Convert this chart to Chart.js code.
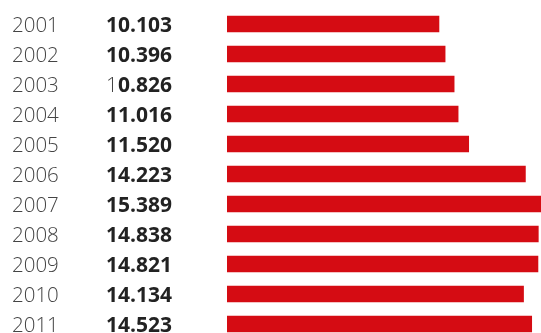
<!DOCTYPE html>
<html>
<head>
<meta charset="utf-8">
<script src="https://cdn.jsdelivr.net/npm/chart.js@4"></script>
<style>
  html, body { margin: 0; padding: 0; background: #fff; overflow: hidden; }
  #wrap { width: 541px; height: 345px; }
</style>
</head>
<body>
<div id="wrap"><canvas id="chart" width="541" height="345"></canvas></div>
<script>
// Jahre und Werte
const years = ["2001", "2002", "2003", "2004", "2005", "2006", "2007", "2008", "2009", "2010", "2011"];
const values = [10103, 10396, 10826, 11016, 11520, 14223, 15389, 14838, 14821, 14134, 14523];
const valueLabels = ["10.103", "10.396", "10.826", "11.016", "11.520", "14.223", "15.389", "14.838", "14.821", "14.134", "14.523"];

// Beschriftungen links zeichnen
const labelPlugin = {
  id: "labels",
  afterDraw(chart) {
    const ctx = chart.ctx;
    const yScale = chart.scales.y;
    ctx.save();
    ctx.textBaseline = "middle";
    ctx.textAlign = "left";
    years.forEach((yr, i) => {
      const y = yScale.getPixelForValue(i) + 2;
      ctx.font = "300 20.5px 'Open Sans'";
      ctx.fillStyle = "#444";
      ctx.fillText(yr, 12, y);
      const txt = valueLabels[i];
      let x = 106;
      if (i === 2) {
        // im Original ist die erste "1" nicht fett
        ctx.font = "300 21px 'Open Sans'";
        ctx.fillStyle = "#444";
        ctx.fillText(txt[0], x, y);
        x += ctx.measureText(txt[0]).width;
        ctx.font = "bold 21px 'Open Sans'";
        ctx.fillStyle = "#222";
        ctx.fillText(txt.slice(1), x, y);
      } else {
        ctx.font = "bold 21px 'Open Sans'";
        ctx.fillStyle = "#222";
        ctx.fillText(txt, x, y);
      }
    });
    ctx.restore();
  }
};

const ctx = document.getElementById("chart").getContext("2d");
const chart = new Chart(ctx, {
  type: "bar",
  data: {
    labels: years,
    datasets: [
      {
        data: values,
        backgroundColor: "#d50c13",
        borderWidth: 0,
        barThickness: 16,
      },
    ],
  },
  options: {
    indexAxis: "y",
    responsive: false,
    animation: false,
    layout: {
      padding: { left: 227, top: 9, right: 0, bottom: 6 },
    },
    plugins: {
      legend: { display: false },
      tooltip: { enabled: false },
    },
    scales: {
      x: { display: false, min: 0, max: 14966 },
      y: { display: false },
    },
  },
  plugins: [labelPlugin],
});
</script>
</body>
</html>
